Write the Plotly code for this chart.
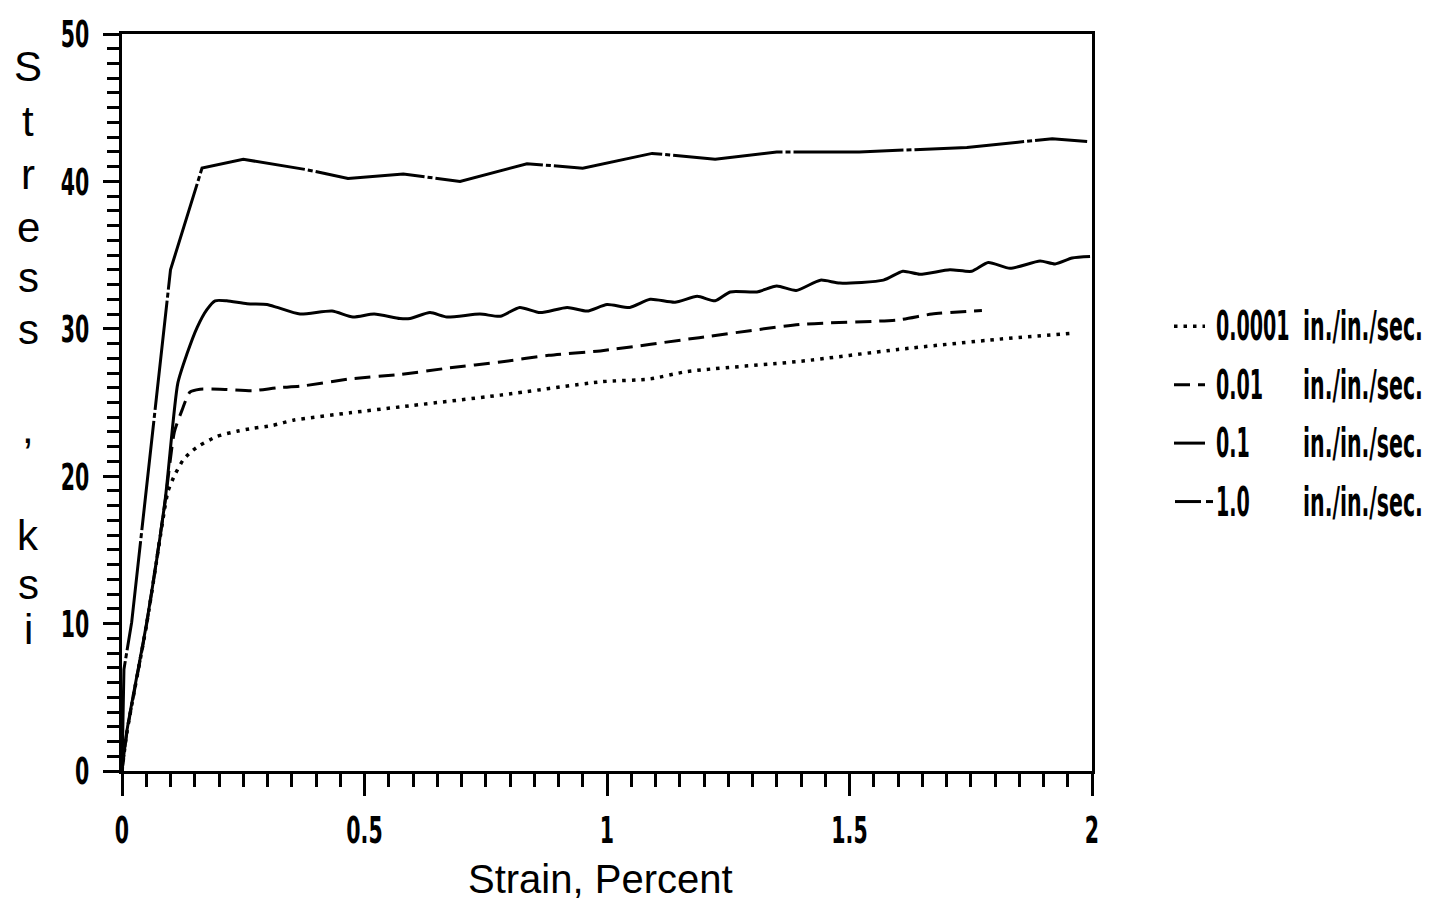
import plotly.graph_objects as go

# Stress-strain curves at four strain rates
strain_1e4 = [0, 0.01, 0.051, 0.089, 0.095, 0.109, 0.126, 0.144, 0.161, 0.196, 0.237, 0.27, 0.311,
              0.353, 0.47, 0.573, 0.78, 0.986, 1.089, 1.165, 1.40, 1.60, 1.81, 1.96]
stress_1e4 = [0, 2.6, 10.0, 18.0, 19.0, 20.1, 21.1, 21.7, 22.1, 22.7, 23.05, 23.25, 23.45,
              23.8, 24.3, 24.7, 25.5, 26.4, 26.6, 27.1, 27.8, 28.6, 29.3, 29.7]

strain_1e2 = [0, 0.01, 0.051, 0.089, 0.108, 0.124, 0.14, 0.161, 0.202, 0.27, 0.32, 0.367, 0.47,
              0.573, 0.676, 0.78, 0.88, 0.986, 1.19, 1.40, 1.60, 1.67, 1.773]
stress_1e2 = [0, 2.6, 10.0, 18.3, 23.0, 24.5, 25.7, 25.9, 25.9, 25.8, 26.0, 26.1, 26.6,
              26.9, 27.35, 27.75, 28.2, 28.5, 29.4, 30.3, 30.6, 31.0, 31.25]

strain_1e1 = [0, 0.01, 0.051, 0.089, 0.115, 0.134, 0.155, 0.175, 0.192, 0.216, 0.258, 0.299, 0.32,
              0.367, 0.433, 0.476, 0.52, 0.573, 0.594, 0.635, 0.67, 0.738, 0.78, 0.82, 0.862,
              0.918, 0.959, 1.0, 1.047, 1.089, 1.14, 1.186, 1.223, 1.254, 1.309, 1.35, 1.39,
              1.44, 1.48, 1.57, 1.61, 1.645, 1.707, 1.752, 1.786, 1.831, 1.893, 1.924, 1.959, 1.996]
stress_1e1 = [0, 2.7, 10.1, 18.4, 26.3, 28.3, 30.1, 31.3, 31.9, 31.9, 31.7, 31.65, 31.45,
              31.0, 31.2, 30.8, 31.0, 30.7, 30.7, 31.1, 30.8, 31.0, 30.85, 31.45, 31.1,
              31.45, 31.2, 31.65, 31.45, 32.0, 31.8, 32.2, 31.9, 32.5, 32.5, 32.9, 32.6,
              33.3, 33.1, 33.3, 33.9, 33.7, 34.0, 33.9, 34.5, 34.1, 34.6, 34.4, 34.8, 34.9]

strain_1e0 = [0, 0.004, 0.02, 0.047, 0.10, 0.165, 0.25, 0.38, 0.466, 0.58, 0.697, 0.835, 0.95,
              1.093, 1.223, 1.35, 1.52, 1.742, 1.918, 1.99]
stress_1e0 = [0, 6.9, 10.1, 18.3, 34.0, 40.9, 41.5, 40.8, 40.2, 40.5, 40.0, 41.2, 40.9,
              41.9, 41.5, 42.0, 42.0, 42.3, 42.9, 42.7]

rate_labels = ["0.0001", "0.01", "0.1", "1.0"]
unit_label = "in./in./sec."
x_ticks = [0, 0.5, 1, 1.5, 2]
x_ticktext = ["0", "0.5", "1", "1.5", "2"]
y_ticks = [0, 10, 20, 30, 40, 50]

# page geometry (pixels)
W, H = 1435, 906
L, R, T, B = 122, 1092, 27, 771


def px(x):
    return (x - L) / (R - L)


def py(y):
    return (B - y) / (B - T)


NARROW = "DejaVu Sans Condensed"
SANS = "Liberation Sans, Arial, sans-serif"

styles = [
    dict(color="black", width=3.5, dash="3.5px,6px"),
    dict(color="black", width=3, dash="16px,8px"),
    dict(color="black", width=3, dash="solid"),
    dict(color="black", width=3, dash="110px,3px,5px,3px"),
]
series = [(strain_1e4, stress_1e4, "spline"), (strain_1e2, stress_1e2, "spline"),
          (strain_1e1, stress_1e1, "spline"), (strain_1e0, stress_1e0, "linear")]

fig = go.Figure()
for (xs, ys, shape), st, name in zip(series, styles, rate_labels):
    line = dict(st)
    line["shape"] = shape
    if shape == "spline":
        line["smoothing"] = 0.6
    fig.add_trace(go.Scatter(x=xs, y=ys, mode="lines", line=line, name=name, showlegend=False))

annotations = []
shapes = []

# hand-built legend with aligned columns
row_y = [322, 381, 440, 499]
legend_font = dict(family=NARROW, size=40, color="black", weight="bold")
for i, (label, st) in enumerate(zip(rate_labels, styles)):
    yy = py(row_y[i])
    if i == 3:
        shapes.append(dict(type="line", xref="paper", yref="paper", x0=px(1175), x1=px(1201),
                           y0=yy, y1=yy, line=dict(color="black", width=3)))
        shapes.append(dict(type="line", xref="paper", yref="paper", x0=px(1206), x1=px(1213),
                           y0=yy, y1=yy, line=dict(color="black", width=3)))
    else:
        shapes.append(dict(type="line", xref="paper", yref="paper", x0=px(1174), x1=px(1205),
                           y0=yy, y1=yy, line=dict(color="black", width=st["width"],
                                                   dash=st["dash"])))
    annotations.append(dict(text=label, xref="paper", yref="paper", x=px(1214), y=yy,
                            xanchor="left", yanchor="middle", align="left", showarrow=False,
                            font=legend_font))
    annotations.append(dict(text=unit_label, xref="paper", yref="paper", x=px(1301), y=yy,
                            xanchor="left", yanchor="middle", align="left", showarrow=False,
                            font=legend_font))

# vertical stacked y-axis title
title_chars = ["S", "t", "r", "e", "s", "s", ",", "k", "s", "i"]
title_rows = [60, 115, 169, 222, 273, 325, 425, 533, 583, 628]
for ch, yy in zip(title_chars, title_rows):
    annotations.append(dict(text=ch, xref="paper", yref="paper", x=px(28), y=py(yy),
                            xanchor="center", yanchor="middle", showarrow=False,
                            font=dict(family=SANS, size=42, color="black")))

# x-axis title
annotations.append(dict(text="Strain, Percent", xref="paper", yref="paper", x=px(600), y=py(880),
                        xanchor="center", yanchor="middle", showarrow=False,
                        font=dict(family=SANS, size=40, color="black")))

fig.update_layout(
    width=W, height=H,
    margin=dict(l=L, r=W - R, t=T, b=H - B),
    paper_bgcolor="white", plot_bgcolor="white",
    annotations=annotations, shapes=shapes,
    showlegend=False,
)
tick_font = dict(family=NARROW, size=38, color="black", weight="bold")
fig.update_xaxes(
    range=[0, 2], showgrid=False, zeroline=False,
    showline=True, linewidth=3, linecolor="black", mirror=True,
    tickmode="array", tickvals=x_ticks, ticktext=x_ticktext,
    ticks="outside", ticklen=22, tickwidth=2.5, tickcolor="black",
    ticklabelstandoff=1,
    minor=dict(dtick=0.05, ticks="outside", ticklen=13, tickwidth=2.5, tickcolor="black"),
    tickfont=tick_font,
)
fig.update_yaxes(
    range=[0, 50], showgrid=False, zeroline=False,
    showline=True, linewidth=3, linecolor="black", mirror=True,
    tickmode="array", tickvals=y_ticks,
    ticks="outside", ticklen=16, tickwidth=2.5, tickcolor="black",
    ticklabelstandoff=6,
    minor=dict(dtick=1, ticks="outside", ticklen=12, tickwidth=2.5, tickcolor="black"),
    tickfont=tick_font,
)

# narrow the condensed numerals/legend text horizontally (tall, compressed lettering)
squeeze_js = """
var gd = document.getElementById('{plot_id}');
function squeezeText() {
  gd.querySelectorAll('text').forEach(function (t) {
    var ff = t.style.fontFamily || '';
    if (ff.indexOf('Condensed') === -1) return;
    var nat = t.getAttribute('data-natlen');
    if (!nat) {
      nat = t.getComputedTextLength();
      t.setAttribute('data-natlen', nat);
    }
    var ann = t.closest('.annotation');
    var k = 0.6;
    if (ann) k = (t.textContent.indexOf('/') >= 0) ? 0.57 : 0.53;
    var len = parseFloat(nat) * k;
    t.setAttribute('textLength', len.toFixed(2));
    t.setAttribute('lengthAdjust', 'spacingAndGlyphs');
    if (ann) {
      var bg = ann.querySelector('rect.bg');
      if (bg) bg.setAttribute('width', (len + 6).toFixed(2));
    }
  });
}
squeezeText();
gd.on('plotly_afterplot', squeezeText);
"""

fig.write_html("out.html", post_script=squeeze_js)
